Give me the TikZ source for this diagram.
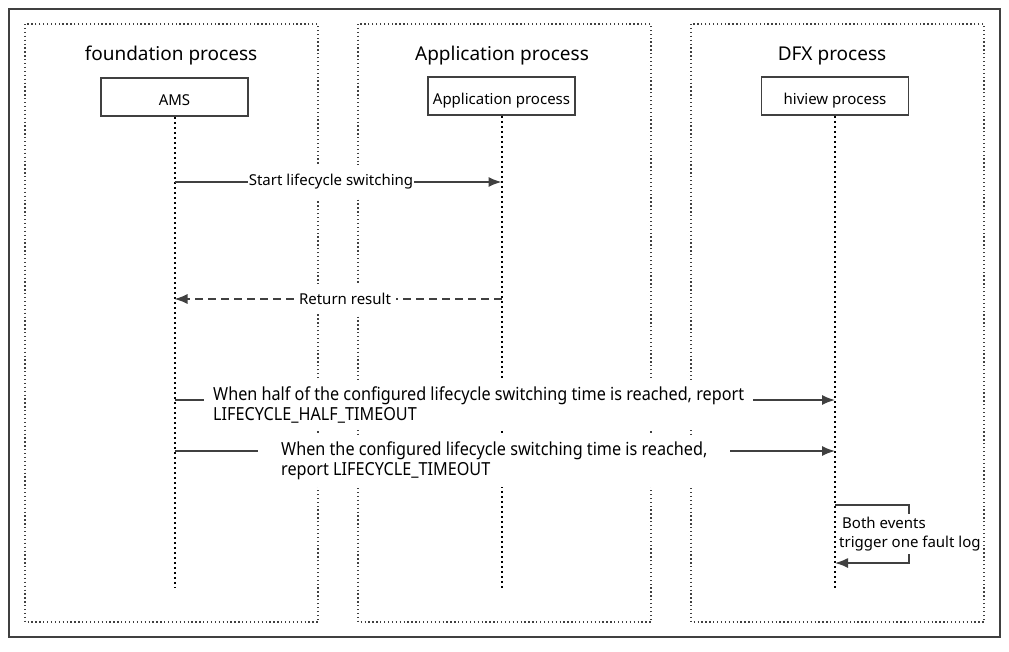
\documentclass[tikz,border=0pt]{standalone}
\usepackage{fontspec}
\setmainfont{Noto Sans}
\newfontfamily\narrowfont[FakeStretch=0.9]{Noto Sans}
\usetikzlibrary{arrows.meta}
\definecolor{linegray}{HTML}{404040}
\begin{document}
\begin{tikzpicture}[x=1pt,y=-1pt,
  frame/.style={draw=linegray, line width=1.8pt},
  lane/.style={draw=linegray, line width=1.3pt, dash pattern=on 1.3pt off 2.6pt},
  life/.style={draw=black, line width=2pt, dash pattern=on 2pt off 3pt},
  head/.style={draw=linegray, line width=1.5pt, minimum width=147pt, minimum height=38pt, inner sep=0pt, text height=16pt, text depth=0pt, font=\fontsize{15}{17}\selectfont},
  title/.style={font=\fontsize{19}{22}\selectfont, inner sep=0pt},
  msg/.style={draw=linegray, line width=1.5pt, -{Latex[length=13pt,width=10pt]}},
  msgd/.style={msg, dash pattern=on 8pt off 5pt},
  lbl/.style={fill=white, inner xsep=1pt, inner ysep=9pt, font=\fontsize{15}{17}\selectfont},
  lbltwo/.style={fill=white, inner ysep=7pt, align=left, anchor=west, font=\narrowfont\fontsize{18}{19.5}\selectfont},
  note/.style={fill=white, inner xsep=1pt, inner ysep=3pt, align=left, anchor=west, font=\fontsize{15}{19}\selectfont}
]
\useasboundingbox (0,0) rectangle (1009,651);
\fill[white] (0,0) rectangle (1009,651);
\draw[frame] (9,9) rectangle (1000,637);
\draw[lane] (25,24) rectangle (318,622);
\draw[lane] (358,24) rectangle (651,622);
\draw[lane] (691,24) rectangle (984,622);

\node[title] (t1) at (171,56) {foundation process};
\node[title] (t2) at (502,56) {Application process};
\node[title] (t3) at (832,56) {DFX process};

\node[head] (ams) at (174.5,97) {AMS};
\node[head] (app) at (501.5,96) {Application process};
\node[head] (hv) at (835,96) {hiview process};

\coordinate (amsE) at (ams.south |- 0,588);
\coordinate (appE) at (app.south |- 0,588);
\coordinate (hvE) at (hv.south |- 0,588);
\draw[life] (ams.south) -- (amsE);
\draw[life] (app.south) -- (appE);
\draw[life] (hv.south) -- (hvE);

% messages
\coordinate (m1a) at (ams.south |- 0,182);
\coordinate (m1b) at (app.south |- 0,182);
\draw[msg] (m1a) -- (m1b);
\coordinate (m2a) at (app.south |- 0,299);
\coordinate (m2b) at (ams.south |- 0,299);
\draw[msgd] (m2a) -- (m2b);
\coordinate (m3a) at (ams.south |- 0,400);
\coordinate (m3b) at (hv.south |- 0,400);
\draw[msg] (m3a) -- (m3b);
\coordinate (m4a) at (ams.south |- 0,451);
\coordinate (m4b) at (hv.south |- 0,451);
\draw[msg] (m4a) -- (m4b);

% self loop
\coordinate (s1) at (hv.south |- 0,505);
\coordinate (s2) at (909,505);
\coordinate (s3) at (909,563);
\coordinate (s4) at (hv.south |- 0,563);
\draw[msg] (s1) -- (s2) -- (s3) -- (s4);

% labels
\node[lbl] (l1) at (331,182) {Start lifecycle switching};
\node[lbl, inner xsep=5pt] (l2) at (345,299) {Return result};
\node[lbltwo, inner xsep=9pt] (l3) at (204,405) {When half of the configured lifecycle switching time is reached, report\\LIFECYCLE\_HALF\_TIMEOUT};
\node[lbltwo, inner xsep=23pt] (l4) at (258,461) {When the configured lifecycle switching time is reached,\\report LIFECYCLE\_TIMEOUT};
\node[note] (l5) at (838,534) {\hspace{3pt}Both events\\trigger one fault log};
\end{tikzpicture}
\end{document}
